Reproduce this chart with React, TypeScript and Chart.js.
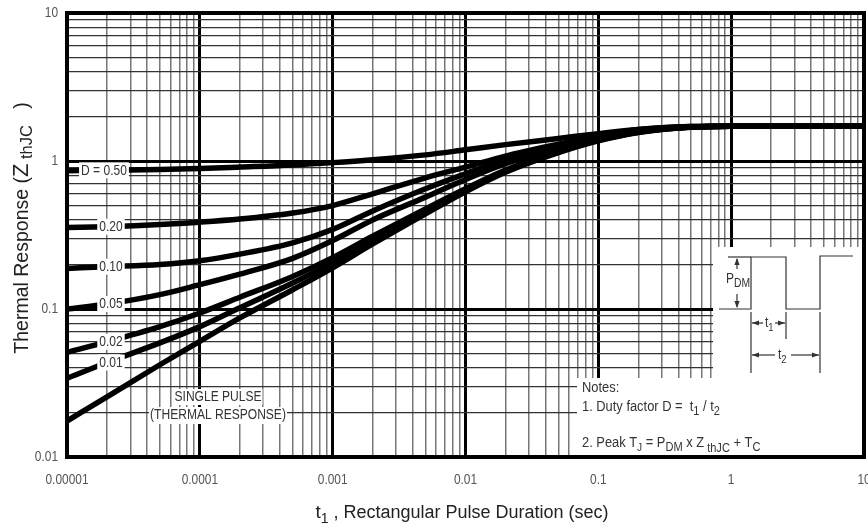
import React, { useEffect, useRef } from 'react';
import { Chart, registerables } from 'chart.js';

Chart.register(...registerables);

// ---- Data ----
const X_TICKS = [1e-5, 1e-4, 1e-3, 1e-2, 1e-1, 1, 10];
const X_TICK_LABELS = ['0.00001', '0.0001', '0.001', '0.01', '0.1', '1', '10'];
const Y_TICKS = [0.01, 0.1, 1, 10];
const Y_TICK_LABELS = ['0.01', '0.1', '1', '10'];

const T = [1e-5, 2e-5, 5e-5, 1e-4, 2e-4, 5e-4, 1e-3, 2e-3, 5e-3, 1e-2, 2e-2, 5e-2, 0.1, 0.2, 0.5, 1, 10];
const D050 = [0.86, 0.865, 0.875, 0.89, 0.91, 0.94, 0.975, 1.02, 1.1, 1.19, 1.29, 1.42, 1.53, 1.63, 1.7, 1.72, 1.72];
const D020 = [0.355, 0.36, 0.372, 0.386, 0.405, 0.445, 0.5, 0.6, 0.77, 0.91, 1.08, 1.3, 1.48, 1.63, 1.71, 1.72, 1.72];
const D010 = [0.188, 0.193, 0.2, 0.212, 0.235, 0.28, 0.345, 0.46, 0.65, 0.82, 1.02, 1.27, 1.46, 1.62, 1.71, 1.72, 1.72];
const D005 = [0.1, 0.108, 0.125, 0.146, 0.172, 0.22, 0.29, 0.4, 0.57, 0.75, 0.96, 1.22, 1.43, 1.6, 1.7, 1.72, 1.72];
const D002 = [0.051, 0.06, 0.076, 0.094, 0.12, 0.166, 0.222, 0.31, 0.475, 0.65, 0.87, 1.16, 1.39, 1.57, 1.7, 1.72, 1.72];
const D001 = [0.034, 0.0435, 0.059, 0.076, 0.102, 0.15, 0.205, 0.29, 0.455, 0.635, 0.855, 1.15, 1.38, 1.565, 1.695, 1.72, 1.72];
const SINGLE = [0.0175, 0.0255, 0.042, 0.0605, 0.087, 0.135, 0.19, 0.275, 0.44, 0.62, 0.84, 1.14, 1.37, 1.56, 1.69, 1.72, 1.72];

const SERIES = [D050, D020, D010, D005, D002, D001, SINGLE];
const SERIES_NAMES = ['D = 0.50', '0.20', '0.10', '0.05', '0.02', '0.01', 'SINGLE PULSE'];
const LABEL_INDEX = 1; // curve labels sit on the point at T[1]

const FONT = '"Liberation Sans", Arial, sans-serif';

type Part = { t: string; size: number; dy?: number };

function richWidth(ctx: CanvasRenderingContext2D, parts: Part[]) {
  let w = 0;
  for (const p of parts) {
    ctx.font = `${p.size}px ${FONT}`;
    w += ctx.measureText(p.t).width;
  }
  return w;
}
function drawRich(
  ctx: CanvasRenderingContext2D,
  parts: Part[],
  x: number,
  y: number,
  align: 'left' | 'center' = 'left',
  sx = 1
) {
  const w = richWidth(ctx, parts) * sx;
  ctx.save();
  ctx.translate(align === 'center' ? x - w / 2 : x, y);
  ctx.scale(sx, 1);
  ctx.textAlign = 'left';
  ctx.textBaseline = 'alphabetic';
  let cx = 0;
  for (const p of parts) {
    ctx.font = `${p.size}px ${FONT}`;
    ctx.fillText(p.t, cx, p.dy || 0);
    cx += ctx.measureText(p.t).width;
  }
  ctx.restore();
}
function narrowText(
  ctx: CanvasRenderingContext2D,
  txt: string,
  x: number,
  y: number,
  size: number,
  sx: number,
  align: CanvasTextAlign
) {
  ctx.save();
  ctx.translate(x, y);
  ctx.scale(sx, 1);
  ctx.font = `${size}px ${FONT}`;
  ctx.textAlign = align;
  ctx.textBaseline = 'middle';
  ctx.fillText(txt, 0, 0);
  ctx.restore();
}

function isDecade(v: number) {
  const l = Math.log10(v);
  return Math.abs(l - Math.round(l)) < 1e-6;
}
function logGrid(min: number, max: number) {
  const out: { value: number }[] = [];
  const e0 = Math.round(Math.log10(min));
  const e1 = Math.round(Math.log10(max));
  for (let e = e0; e < e1; e++) {
    for (let m = 1; m < 10; m++) out.push({ value: m * Math.pow(10, e) });
  }
  out.push({ value: max });
  return out;
}

function arrow(ctx: CanvasRenderingContext2D, x: number, y: number, dir: 'l' | 'r' | 'u' | 'd') {
  const L = 7, W = 2.6;
  ctx.beginPath();
  if (dir === 'l') { ctx.moveTo(x, y); ctx.lineTo(x + L, y - W); ctx.lineTo(x + L, y + W); }
  if (dir === 'r') { ctx.moveTo(x, y); ctx.lineTo(x - L, y - W); ctx.lineTo(x - L, y + W); }
  if (dir === 'u') { ctx.moveTo(x, y); ctx.lineTo(x - W, y + L); ctx.lineTo(x + W, y + L); }
  if (dir === 'd') { ctx.moveTo(x, y); ctx.lineTo(x - W, y - L); ctx.lineTo(x + W, y - L); }
  ctx.closePath();
  ctx.fill();
}
function line(ctx: CanvasRenderingContext2D, pts: number[][]) {
  ctx.beginPath();
  ctx.moveTo(pts[0][0], pts[0][1]);
  for (let i = 1; i < pts.length; i++) ctx.lineTo(pts[i][0], pts[i][1]);
  ctx.stroke();
}

const SX = 0.86; // narrow lettering of the original sheet

const decorPlugin = {
  id: 'decor',
  beforeDatasetsDraw(chart: any) {
    const ctx: CanvasRenderingContext2D = chart.ctx;
    const a = chart.chartArea;
    ctx.save();
    // white inset regions
    ctx.fillStyle = '#fff';
    ctx.fillRect(713, 247, a.right - 713, a.bottom - 247);
    ctx.fillRect(577, 378, a.right - 577, a.bottom - 378);

    // SINGLE PULSE label
    const l1 = 'SINGLE PULSE';
    const l2 = '(THERMAL RESPONSE)';
    ctx.font = `14px ${FONT}`;
    const w1 = ctx.measureText(l1).width * SX;
    const w2 = ctx.measureText(l2).width * SX;
    ctx.fillStyle = '#fff';
    ctx.fillRect(218 - w1 / 2 - 1, 389, w1 + 2, 16);
    ctx.fillRect(218 - w2 / 2 - 1, 407, w2 + 2, 17);
    ctx.fillStyle = '#333';
    narrowText(ctx, l1, 218, 397.5, 14, SX, 'center');
    narrowText(ctx, l2, 218, 415.5, 14, SX, 'center');

    // pulse diagram
    ctx.strokeStyle = '#333';
    ctx.fillStyle = '#333';
    ctx.lineWidth = 1.2;
    line(ctx, [[719, 309], [751, 309], [751, 257], [786, 257], [786, 309], [820, 309], [820, 256], [853, 256]]);
    line(ctx, [[728, 257], [751, 257]]);
    // P_DM arrow
    line(ctx, [[737, 259], [737, 269]]);
    line(ctx, [[737, 294], [737, 307]]);
    arrow(ctx, 737, 258, 'u');
    arrow(ctx, 737, 308, 'd');
    drawRich(ctx, [{ t: 'P', size: 14 }, { t: 'DM', size: 12, dy: 4 }], 726, 283, 'left', SX);
    // t1
    line(ctx, [[751, 312], [751, 373]]);
    line(ctx, [[786, 312], [786, 339]]);
    line(ctx, [[820, 312], [820, 373]]);
    line(ctx, [[752, 323], [763, 323]]);
    line(ctx, [[775, 323], [785, 323]]);
    arrow(ctx, 752, 323, 'l');
    arrow(ctx, 785, 323, 'r');
    drawRich(ctx, [{ t: 't', size: 14 }, { t: '1', size: 11, dy: 4 }], 765, 327, 'left', SX);
    // t2
    line(ctx, [[752, 355], [775, 355]]);
    line(ctx, [[791, 355], [819, 355]]);
    arrow(ctx, 752, 355, 'l');
    arrow(ctx, 819, 355, 'r');
    drawRich(ctx, [{ t: 't', size: 14 }, { t: '2', size: 11, dy: 4 }], 778, 359, 'left', SX);

    // notes
    ctx.fillStyle = '#333';
    drawRich(ctx, [{ t: 'Notes:', size: 14 }], 582, 392, 'left', 0.92);
    drawRich(ctx, [
      { t: '1. Duty factor D =  t', size: 14 }, { t: '1', size: 12, dy: 4 },
      { t: ' / t', size: 14 }, { t: '2', size: 12, dy: 4 },
    ], 582, 411, 'left', 0.92);
    drawRich(ctx, [
      { t: '2. Peak T', size: 14 }, { t: 'J', size: 11, dy: 4 }, { t: ' = P', size: 14 }, { t: 'DM', size: 12, dy: 4 },
      { t: ' x Z', size: 14 }, { t: ' thJC', size: 12, dy: 5 }, { t: ' + T', size: 14 }, { t: 'C', size: 12, dy: 4 },
    ], 582, 447, 'left', 0.92);
    ctx.restore();
  },
  afterDatasetsDraw(chart: any) {
    const ctx: CanvasRenderingContext2D = chart.ctx;
    const a = chart.chartArea;
    const xs = chart.scales.x;
    const ys = chart.scales.y;
    ctx.save();

    // curve labels
    const lx = xs.getPixelForValue(T[LABEL_INDEX]) + 4;
    for (let i = 0; i < 6; i++) {
      const txt = SERIES_NAMES[i];
      const y = ys.getPixelForValue(SERIES[i][LABEL_INDEX]);
      ctx.font = `14px ${FONT}`;
      const w = ctx.measureText(txt).width * SX;
      const cx = i === 0 ? lx - 7 : lx;
      ctx.fillStyle = '#fff';
      ctx.fillRect(cx - w / 2 - 2, y - 8, w + 4, 16);
      ctx.fillStyle = '#333';
      narrowText(ctx, txt, cx, y + 0.5, 14, SX, 'center');
    }

    // frame
    ctx.strokeStyle = '#000';
    ctx.lineWidth = 4;
    ctx.strokeRect(a.left, a.top, a.right - a.left, a.bottom - a.top);

    // tick labels
    ctx.fillStyle = '#555';
    X_TICKS.forEach((v, i) => narrowText(ctx, X_TICK_LABELS[i], xs.getPixelForValue(v), 480, 14, 0.85, 'center'));
    Y_TICKS.forEach((v, i) => narrowText(ctx, Y_TICK_LABELS[i], 58, ys.getPixelForValue(v), 14, 0.85, 'right'));

    // titles
    ctx.fillStyle = '#222';
    drawRich(ctx, [
      { t: 't', size: 19 }, { t: '1', size: 14, dy: 5 }, { t: ' , Rectangular Pulse Duration (sec)', size: 18 },
    ], 462, 518, 'center');
    ctx.translate(28, 228);
    ctx.rotate(-Math.PI / 2);
    drawRich(ctx, [
      { t: 'Thermal Response (', size: 19.5 }, { t: 'Z', size: 22 },
      { t: ' thJC', size: 16.5, dy: 4 }, { t: '   )', size: 19.5 },
    ], 0, 0, 'center');
    ctx.restore();
  },
};

export default function App() {
  const ref = useRef<HTMLCanvasElement | null>(null);
  useEffect(() => {
    if (!ref.current) return;
    const datasets = SERIES.map((s, i) => ({
      label: SERIES_NAMES[i],
      data: T.map((t, j) => ({ x: t, y: s[j] })),
      borderColor: '#000',
      borderWidth: 5.5,
      pointRadius: 0,
      fill: false,
      cubicInterpolationMode: 'monotone' as const,
      borderCapStyle: 'butt' as const,
    }));
    const gridX = {
      color: (c: any) => (isDecade(c.tick.value) ? '#000' : '#777'),
      lineWidth: (c: any) => (isDecade(c.tick.value) ? 3 : 1.5),
      drawTicks: false,
    };
    const gridY = {
      color: (c: any) => (isDecade(c.tick.value) ? '#000' : '#333'),
      lineWidth: (c: any) => (isDecade(c.tick.value) ? 3 : 1.2),
      drawTicks: false,
    };
    const chart = new Chart(ref.current, {
      type: 'line',
      data: { datasets },
      plugins: [decorPlugin],
      options: {
        animation: false,
        responsive: false,
        devicePixelRatio: 1,
        layout: { padding: { top: 13, right: 4, left: 0, bottom: 0 } },
        plugins: { legend: { display: false }, tooltip: { enabled: false } },
        scales: {
          x: {
            type: 'logarithmic',
            min: 1e-5,
            max: 10,
            grid: gridX,
            border: { display: false },
            ticks: { display: false, autoSkip: false },
            afterBuildTicks: (s: any) => { s.ticks = logGrid(1e-5, 10); },
            afterFit: (s: any) => { s.height = 69; },
          },
          y: {
            type: 'logarithmic',
            min: 0.01,
            max: 10,
            grid: gridY,
            border: { display: false },
            ticks: { display: false, autoSkip: false },
            afterBuildTicks: (s: any) => { s.ticks = logGrid(0.01, 10); },
            afterFit: (s: any) => { s.width = 67; },
          },
        },
      } as any,
    });
    return () => chart.destroy();
  }, []);
  return (
    <div style={{ position: 'absolute', left: 0, top: 0, width: 868, height: 526, background: '#fff' }}>
      <canvas ref={ref} width={868} height={526} style={{ display: 'block' }} />
    </div>
  );
}
